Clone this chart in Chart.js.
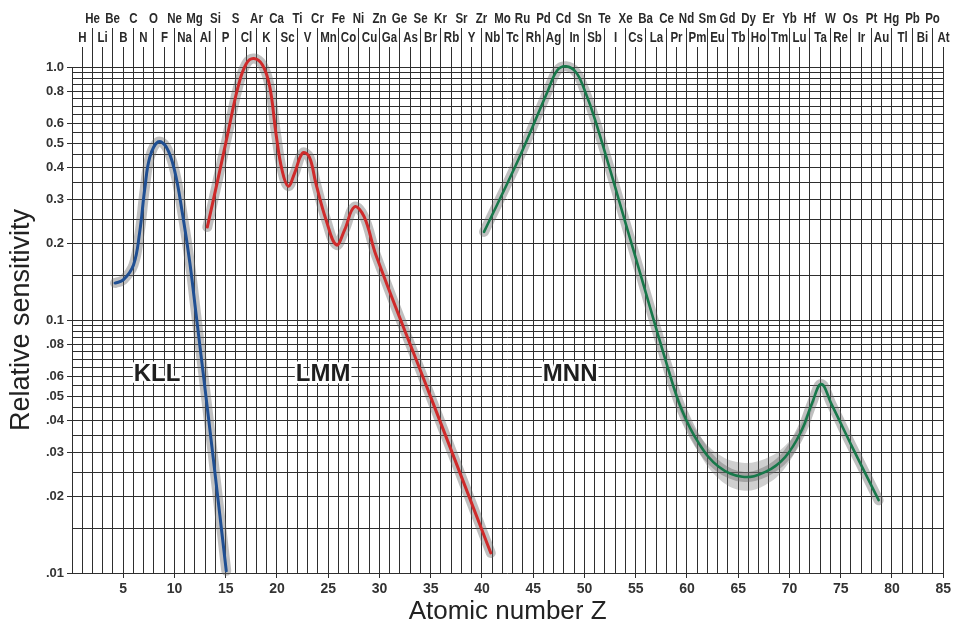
<!DOCTYPE html>
<html>
<head>
<meta charset="utf-8">
<script src="https://cdn.jsdelivr.net/npm/chart.js@4.4.1/dist/chart.umd.min.js"></script>
<style>
html,body{margin:0;padding:0;background:#fff;}
#wrap{width:954px;height:625px;position:relative;}
</style>
</head>
<body>
<div id="wrap"><canvas id="c"></canvas></div>
<script>
// ---------- data ----------
const elementSymbols = ['H','He','Li','Be','B','C','N','O','F','Ne','Na','Mg','Al','Si','P','S','Cl','Ar','K','Ca',
  'Sc','Ti','V','Cr','Mn','Fe','Co','Ni','Cu','Zn','Ga','Ge','As','Se','Br','Kr','Rb','Sr','Y','Zr',
  'Nb','Mo','Tc','Ru','Rh','Pd','Ag','Cd','In','Sn','Sb','Te','I','Xe','Cs','Ba','La','Ce','Pr','Nd',
  'Pm','Sm','Eu','Gd','Tb','Dy','Ho','Er','Tm','Yb','Lu','Hf','Ta','W','Re','Os','Ir','Pt','Au','Hg',
  'Tl','Pb','Bi','Po','At'];

const xLabelValues = [5,10,15,20,25,30,35,40,45,50,55,60,65,70,75,80,85];

const yGridValues = [0.01,0.015,0.02,0.025,0.03,0.035,0.04,0.045,0.05,0.055,0.06,0.065,0.07,0.075,0.08,0.085,0.09,0.095,
  0.1,0.15,0.2,0.25,0.3,0.35,0.4,0.45,0.5,0.55,0.6,0.65,0.7,0.75,0.8,0.85,0.9,0.95,1.0];
const yLabelValues = [0.01,0.02,0.03,0.04,0.05,0.06,0.08,0.1,0.2,0.3,0.4,0.5,0.6,0.8,1.0];
const yLabelTexts  = ['.01','.02','.03','.04','.05','.06','.08','0.1','0.2','0.3','0.4','0.5','0.6','0.8','1.0'];

// KLL series
const kllZ = [4.2, 5.0, 6.0, 6.6, 7.1, 7.6, 8.4, 9.2, 10.0, 10.8, 11.5, 12.1, 13.35, 14.25, 15.05];
const kllS = [0.140, 0.144, 0.165, 0.222, 0.330, 0.441, 0.506, 0.483, 0.391, 0.260, 0.168, 0.106, 0.040, 0.0195, 0.0102];

// LMM series
const lmmZ = [13.2, 14.25, 15.2, 16.2, 17.0, 17.75, 18.6, 19.3, 19.9, 20.5, 21.1, 21.7, 22.5, 23.15, 23.8, 24.8,
  25.8, 26.6, 27.55, 28.5, 29.67, 34.86, 40.86];
const lmmS = [0.233, 0.362, 0.546, 0.834, 1.03, 1.08, 1.016, 0.834, 0.546, 0.39, 0.338, 0.379, 0.457, 0.441, 0.346, 0.248,
  0.198, 0.227, 0.280, 0.256, 0.18, 0.0513, 0.012];

// MNN series
const mnnZ = [40.2, 43.6, 46.4, 47.35, 48.2, 49.15, 49.95, 51.1, 54.6, 58.2, 59.5,
  61.15, 63.1, 65.4, 67.65, 69.6, 71.2, 72.2, 73.1, 74.1, 76.1, 78.7];
const mnnS = [0.223, 0.435, 0.80, 0.97, 1.006, 0.956, 0.822, 0.607, 0.2, 0.0634, 0.0441,
  0.0326, 0.0263, 0.024, 0.0251, 0.0288, 0.0367, 0.0469, 0.0558, 0.0465, 0.0316, 0.0194];

// MNN uncertainty band (wider around the minimum)
const mnnBandZ    = [58.2, 59.5, 61.15, 63.1, 65.4, 67.65, 69.6, 71.2, 72.5];
const mnnBandHigh = [0.0658, 0.0465, 0.0353, 0.0294, 0.0273, 0.0283, 0.0319, 0.0392, 0.0514];
const mnnBandLow  = [0.0611, 0.0417, 0.0300, 0.0236, 0.0212, 0.0223, 0.0261, 0.0345, 0.0478];

const seriesNames = ['KLL','LMM','MNN'];

// ---------- styling ----------
const GRID = '#2e2e2e';
const TEXT = '#2a2a2a';
const HALO = 'rgba(105,105,105,0.42)';
const COLORS = ['#1f4f93', '#cf2a2a', '#17784a'];
const TENSION = 0.4;

function pts(xs, ys){ return xs.map((x,i)=>({x:x, y:ys[i]})); }
function isLabelled(v){ return yLabelValues.some(l => Math.abs(l - v) < 1e-9); }
function yLabelFor(v){ const i = yLabelValues.findIndex(l => Math.abs(l - v) < 1e-9); return i >= 0 ? yLabelTexts[i] : ''; }

// narrow font detection for element symbols
const mctx = document.createElement('canvas').getContext('2d');
mctx.font = 'bold 14px "Liberation Sans Narrow", monospace';
const wN = mctx.measureText('HeLiBeMgAr').width;
mctx.font = 'bold 14px monospace';
const wM = mctx.measureText('HeLiBeMgAr').width;
const hasNarrow = Math.abs(wN - wM) > 0.5;
const symFont = hasNarrow ? 'bold 14px "Liberation Sans Narrow"' : 'bold 14px "Liberation Sans"';
const symScale = hasNarrow ? 1 : 0.82;

function alignPx(p){ return Math.round(p - 0.5) + 0.5; }

const elementRows = {
  id: 'elementRows',
  beforeDatasetsDraw(chart){
    const {ctx, chartArea, scales} = chart;
    const xs = scales.x;
    ctx.save();
    ctx.strokeStyle = GRID;
    ctx.lineWidth = 1;
    ctx.fillStyle = TEXT;
    ctx.font = symFont;
    ctx.textAlign = 'center';
    ctx.textBaseline = 'middle';
    elementSymbols.forEach((sym, i) => {
      const z = i + 1;
      const px = alignPx(xs.getPixelForValue(z));
      const even = z % 2 === 0;
      ctx.beginPath();
      ctx.moveTo(px, chartArea.top);
      ctx.lineTo(px, even ? 28 : 47);
      ctx.stroke();
      ctx.save();
      ctx.translate(px, even ? 19 : 38);
      ctx.scale(symScale, 1);
      ctx.fillText(sym, 0, 0);
      ctx.restore();
    });
    ctx.restore();
  }
};

const seriesTags = {
  id: 'seriesTags',
  afterDatasetsDraw(chart, args, opts){
    const {ctx, scales} = chart;
    ctx.save();
    ctx.font = 'bold 24px "Liberation Sans"';
    ctx.textAlign = 'center';
    ctx.textBaseline = 'middle';
    ctx.lineJoin = 'round';
    opts.tags.forEach(t => {
      const px = scales.x.getPixelForValue(t.z);
      const py = scales.y.getPixelForValue(t.s);
      ctx.strokeStyle = '#fff';
      ctx.lineWidth = 5;
      ctx.strokeText(t.text, px, py);
      ctx.fillStyle = '#1e1e1e';
      ctx.fillText(t.text, px, py);
    });
    ctx.restore();
  }
};

const allSeries = [[kllZ,kllS],[lmmZ,lmmS],[mnnZ,mnnS]];
const mainSets = allSeries.map((d, i) => ({
  label: seriesNames[i],
  data: pts(d[0], d[1]),
  borderColor: COLORS[i],
  borderWidth: i === 2 ? 2.6 : 3,
  pointRadius: 0,
  tension: TENSION,
  clip: false,
  fill: false,
  borderCapStyle: 'round'
}));
const haloSets = allSeries.map((d, i) => ({
  label: seriesNames[i] + ' band',
  data: pts(d[0], d[1]),
  borderColor: HALO,
  borderWidth: 10,
  pointRadius: 0,
  tension: TENSION,
  clip: false,
  fill: false,
  borderCapStyle: 'round',
  borderJoinStyle: 'round'
}));
const bandSets = [
  { label: 'MNN band high', data: pts(mnnBandZ, mnnBandHigh), borderWidth: 0, borderColor: 'rgba(0,0,0,0)',
    pointRadius: 0, tension: TENSION, fill: false, clip: false },
  { label: 'MNN band low', data: pts(mnnBandZ, mnnBandLow), borderWidth: 0, borderColor: 'rgba(0,0,0,0)',
    pointRadius: 0, tension: TENSION, fill: '-1', backgroundColor: 'rgba(105,105,105,0.32)', clip: false }
];

new Chart(document.getElementById('c'), {
  type: 'line',
  data: { datasets: [...mainSets, ...haloSets, ...bandSets] },
  plugins: [elementRows, seriesTags],
  options: {
    responsive: true,
    maintainAspectRatio: false,
    animation: false,
    events: [],
    layout: { padding: { top: 67, right: 9, left: 0, bottom: 0 } },
    plugins: {
      legend: { display: false },
      tooltip: { enabled: false },
      seriesTags: { tags: [
        { text: seriesNames[0], z: 8.3,  s: 0.061 },
        { text: seriesNames[1], z: 24.5, s: 0.061 },
        { text: seriesNames[2], z: 48.6, s: 0.061 }
      ] }
    },
    scales: {
      x: {
        type: 'linear',
        min: 0, max: 85,
        afterBuildTicks: (scale) => {
          const t = [];
          for (let z = 0; z <= 85; z++) t.push({ value: z });
          scale.ticks = t;
        },
        afterFit: (scale) => { scale.height = 52; },
        border: { display: false },
        grid: {
          color: GRID,
          lineWidth: 1,
          drawTicks: true,
          tickLength: 5,
          tickColor: (ctx) => (ctx.tick && xLabelValues.includes(ctx.tick.value)) ? GRID : 'rgba(0,0,0,0)'
        },
        ticks: {
          autoSkip: false,
          maxRotation: 0,
          minRotation: 0,
          padding: 3,
          color: '#333',
          font: { family: '"Liberation Sans"', size: 14, weight: 'bold' },
          callback: (v) => xLabelValues.includes(v) ? String(v) : ''
        },
        title: {
          display: true,
          text: 'Atomic number Z',
          color: '#222',
          font: { family: '"Liberation Sans"', size: 26, lineHeight: 1.0 },
          padding: { top: 0, bottom: 0 }
        }
      },
      y: {
        type: 'logarithmic',
        min: 0.01, max: 1.0,
        afterBuildTicks: (scale) => { scale.ticks = yGridValues.map(v => ({ value: v })); },
        afterFit: (scale) => { scale.width = 72; },
        border: { display: false },
        grid: {
          color: GRID,
          lineWidth: 1,
          drawTicks: true,
          tickLength: 5,
          tickColor: (ctx) => (ctx.tick && isLabelled(ctx.tick.value)) ? GRID : 'rgba(0,0,0,0)'
        },
        ticks: {
          autoSkip: false,
          padding: 3,
          color: '#333',
          font: { family: '"Liberation Sans"', size: 13, weight: 'bold' },
          callback: (v) => yLabelFor(v)
        },
        title: {
          display: true,
          text: 'Relative sensitivity',
          color: '#222',
          font: { family: '"Liberation Sans"', size: 27, lineHeight: 1.0 },
          padding: { top: 8, bottom: 0 }
        }
      }
    }
  }
});
</script>
</body>
</html>
